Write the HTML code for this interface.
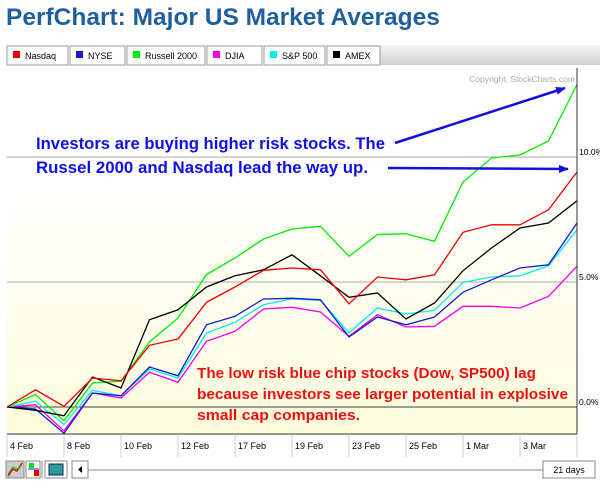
<!DOCTYPE html>
<html><head><meta charset="utf-8"><style>
body{margin:0;background:#fff;width:600px;height:482px;overflow:hidden;font-family:"Liberation Sans",sans-serif}
svg{display:block}
</style></head><body>
<svg id="c" width="600" height="482" viewBox="0 0 600 482">
<defs>
<linearGradient id="bg" x1="0" y1="0" x2="0" y2="1">
<stop offset="0" stop-color="#ffffff"/><stop offset="0.3" stop-color="#ffffff"/><stop offset="1" stop-color="#fcfcdc"/></linearGradient>
<linearGradient id="band" x1="0" y1="0" x2="0" y2="1">
<stop offset="0" stop-color="#f4f4f4"/><stop offset="1" stop-color="#cfcfcf"/></linearGradient>
<marker id="ah" markerWidth="10" markerHeight="8" refX="9" refY="4" orient="auto" markerUnits="userSpaceOnUse"><path d="M0,0 L10,4 L0,8 Z" fill="#1010e0"/></marker>
</defs>
<text x="6" y="25" font-size="24.5" font-weight="bold" fill="#1e5f9e">PerfChart: Major US Market Averages</text>
<rect x="360" y="45" width="240" height="20" fill="url(#band)"/>
<g id="legend"></g>
<text x="8" y="80" font-size="9" fill="#000">4 February 2010 - 5 March 2010</text>
<rect x="7" y="68" width="570" height="366" fill="url(#bg)"/>
<text x="575" y="82" font-size="8.5" fill="#aaa" text-anchor="end">Copyright, StockCharts.com</text>
<g id="grid"></g>
<g id="series"></g>
<line x1="577" y1="68" x2="577" y2="434" stroke="#333"/>
<line x1="7" y1="434" x2="577" y2="434" stroke="#333"/>
<g id="xaxis"></g>
<g>
<text x="36" y="149" font-size="17" font-weight="bold" fill="#1010e8" textLength="349" lengthAdjust="spacingAndGlyphs">Investors are buying higher risk stocks. The</text>
<text x="36" y="173" font-size="17" font-weight="bold" fill="#1010e8" textLength="332" lengthAdjust="spacingAndGlyphs">Russel 2000 and Nasdaq lead the way up.</text>
<line x1="395" y1="143" x2="565" y2="88" stroke="#1010e0" stroke-width="2.5" marker-end="url(#ah)"/>
<line x1="388" y1="168" x2="568" y2="169" stroke="#1010e0" stroke-width="2.5" marker-end="url(#ah)"/>
</g>
<g font-size="15" font-weight="bold" fill="#ee1010">
<text x="197" y="378" textLength="339" lengthAdjust="spacingAndGlyphs">The low risk blue chip stocks (Dow, SP500) lag</text>
<text x="197" y="399" textLength="371" lengthAdjust="spacingAndGlyphs">because investors see larger potential in explosive</text>
<text x="197" y="420" textLength="163" lengthAdjust="spacingAndGlyphs">small cap companies.</text>
</g>
<g>
<rect x="6" y="461" width="18" height="17" fill="#ccc" stroke="#888"/>
<polyline points="8,476 13,469 17,471 22,463" fill="none" stroke="#e00" stroke-width="1.5"/>
<polyline points="8,474 13,467 17,469 22,465" fill="none" stroke="#0c0" stroke-width="1"/>
<rect x="26" y="461" width="14" height="17" fill="#fff" stroke="#888"/>
<rect x="29" y="463" width="5" height="5" fill="#0d0"/><rect x="34" y="470" width="5" height="6" fill="#d00"/><line x1="28" y1="469" x2="39" y2="469" stroke="#22a"/>
<line x1="42" y1="461" x2="42" y2="478" stroke="#888"/>
<rect x="45" y="461" width="22" height="17" fill="#fff" stroke="#888"/>
<rect x="49" y="464" width="14" height="11" fill="#2a9a9a" stroke="#225"/>
<rect x="72" y="461" width="16" height="17" fill="#fff" stroke="#888"/>
<path d="M82,466 L78,469.5 L82,473 Z" fill="#000"/>
<line x1="88" y1="470" x2="543" y2="470" stroke="#888"/>
<rect x="543" y="461" width="52" height="17" fill="#fff" stroke="#888"/>
<text x="569" y="473" font-size="9" text-anchor="middle">21 days</text>
</g>
</svg>
<script>
const seriesNames = ["Nasdaq","NYSE","Russell 2000","DJIA","S&P 500","AMEX"];
const seriesColors = ["#ee0000","#1a1acc","#00ee00","#ee00ee","#00eeee","#000000"];
const nasdaq = [0,0.69,0.03,1.16,1.05,2.47,2.72,4.19,4.8,5.47,5.56,5.49,4.13,5.2,5.09,5.29,6.99,7.29,7.29,7.89,9.4];
const nyse = [0,-0.08,-1.05,0.56,0.45,1.6,1.25,3.29,3.63,4.32,4.35,4.29,2.8,3.6,3.29,3.6,4.59,5.09,5.56,5.69,7.36];
const russell = [0,0.5,-0.55,0.96,1.03,2.6,3.56,5.3,5.96,6.72,7.12,7.23,6.03,6.9,6.93,6.63,9.0,9.96,10.08,10.64,12.9];
const djia = [0,0.09,-0.95,0.56,0.36,1.39,0.99,2.63,3.03,3.92,3.99,3.8,2.83,3.69,3.2,3.23,4.03,4.03,3.96,4.43,5.63];
const sp500 = [0,0.23,-0.7,0.67,0.45,1.52,1.16,2.96,3.39,4.09,4.33,4.27,2.96,3.96,3.72,3.87,4.99,5.2,5.25,5.65,7.09];
const amex = [0,-0.13,-0.35,1.2,0.76,3.49,3.89,4.8,5.25,5.49,6.09,5.25,4.39,4.56,3.52,4.16,5.45,6.36,7.16,7.36,8.25];
const xLabels = ["4 Feb","8 Feb","10 Feb","12 Feb","17 Feb","19 Feb","23 Feb","25 Feb","1 Mar","3 Mar"];
const yTicks = [0,5,10];
const yTickLabels = ["0.0%","5.0%","10.0%"];

const NS="http://www.w3.org/2000/svg";
const X0=7,X1=577,Y0=407,PPU=25;
const nPts = nasdaq.length;
function xs(i){return X0+(X1-X0)*i/(nPts-1);}
function ys(v){return Y0-v*PPU;}
function mk(t,a,p){const e=document.createElementNS(NS,t);for(const k in a)e.setAttribute(k,a[k]);p.appendChild(e);return e;}

// legend tabs
const lg=document.getElementById('legend');
const tabW=[63,57,80,57,63,55];let tx=7;
seriesNames.forEach((n,i)=>{
  const g=mk('g',{},lg);
  
  
  mk('rect',{x:tx,y:46,width:tabW[i]-2,height:19,fill:'#fff',stroke:'#999'},g);
  mk('rect',{x:tx+6,y:51,width:7,height:7,fill:seriesColors[i]},g);
  const t=mk('text',{x:tx+18,y:59,'font-size':'9',fill:'#000'},g);t.textContent=n;
  tx+=tabW[i];
});

// grid
const gr=document.getElementById('grid');
yTicks.forEach((v,i)=>{
  const l=mk('line',{x1:X0,x2:X1,y1:ys(v),y2:ys(v),stroke:v===0?'#444':'#aaa'},gr);
  
  
  const t=mk('text',{x:X1+2,y:ys(v)-2,'font-size':'8.5',fill:'#000'},gr);
  
  
  t.textContent=yTickLabels[i];
});

// series
const sg=document.getElementById('series');
const allSeries=[djia,sp500,nyse,russell,amex,nasdaq];
const allIdx=[3,4,1,2,5,0];
allSeries.forEach((arr,k)=>{
  const i=allIdx[k];
  const pts=arr.map((v,j)=>xs(j).toFixed(1)+','+ys(v).toFixed(1)).join(' ');
  const p=mk('polyline',{points:pts,fill:'none',stroke:seriesColors[i],'stroke-width':'1.3'},sg);
  
  
});

// x axis
const xa=document.getElementById('xaxis');
xLabels.forEach((s,i)=>{
  const x=xs(i*2);
  const l=mk('line',{x1:x,x2:x,y1:435,y2:457,stroke:'#ccc'},xa);
  
  
  const t=mk('text',{x:x+3,y:449,'font-size':'9',fill:'#000'},xa);
  
  
  t.textContent=s;
});
const le=mk('line',{x1:X1,x2:X1,y1:435,y2:457,stroke:'#ccc'},xa);


</script>
</body></html>
